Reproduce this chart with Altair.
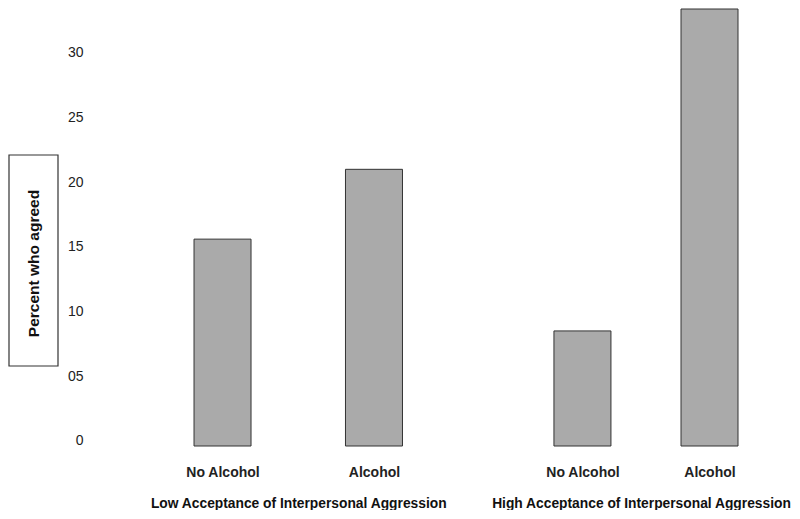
import altair as alt
import pandas as pd

# ---- data ----
group_low = "Low Acceptance of Interpersonal Aggression"
group_high = "High Acceptance of Interpersonal Aggression"
conditions = ["No Alcohol", "Alcohol"]
low_percent = [15.6, 21.0]
high_percent = [8.5, 33.4]
y_ticks = [0, 5, 10, 15, 20, 25, 30]
y_title = "Percent who agreed"
bar_base = -0.4          # bars in the reference start slightly below the 0 label
y_domain = [-0.4, 33.4]

low_df = pd.DataFrame({"condition": conditions, "percent": low_percent,
                       "base": [bar_base] * len(conditions)})
high_df = pd.DataFrame({"condition": conditions, "percent": high_percent,
                        "base": [bar_base] * len(conditions)})

FONT = "Liberation Sans"
PLOT_H = 437

y_scale = alt.Scale(domain=y_domain, nice=False, zero=False)


def x_axis(title):
    return alt.Axis(title=title, labelAngle=0, domain=False, ticks=False, grid=False,
                    labelFontWeight="bold", labelFontSize=14, labelPadding=19,
                    titleFontWeight="bold", titleFontSize=13.8, titlePadding=17)


def bar_layer(df, title, xscale, yaxis):
    return alt.Chart(df).mark_bar(size=57, fill="#aaaaaa", stroke="#333333",
                                  strokeWidth=1).encode(
        x=alt.X("condition:N", sort=conditions, scale=xscale, axis=x_axis(title)),
        y=alt.Y("percent:Q", scale=y_scale, axis=yaxis),
        y2="base:Q",
    )


left_yaxis = alt.Axis(values=y_ticks, domain=False, ticks=False, grid=False,
                      labelExpr="datum.value == 0 ? '0' : (datum.value < 10 ? '0' + datum.value : '' + datum.value)",
                      labelFontSize=14, labelPadding=12,
                      title=y_title, titleX=-62, titleY=254, titleAngle=270,
                      titleAlign="center", titleBaseline="middle",
                      titleFontSize=15.5, titleFontWeight="bold")

left_bars = bar_layer(low_df, group_low,
                      alt.Scale(type="point", padding=0.842), left_yaxis)

title_box = alt.Chart(alt.Data(values=[{}])).mark_rect(
    fillOpacity=0, stroke="#333333", strokeWidth=1.2).encode(
    x=alt.value(-86), x2=alt.value(-37), y=alt.value(146), y2=alt.value(357))

left = alt.layer(left_bars, title_box).properties(width=406.5, height=PLOT_H)

right = bar_layer(high_df, group_high,
                  alt.Scale(type="point", padding=0.594, align=0.533),
                  None).properties(width=278, height=PLOT_H)

chart = alt.hconcat(left, right, spacing=0, bounds="flush").properties(
    padding=0
).configure_view(strokeWidth=0).configure_axis(
    labelFont=FONT, titleFont=FONT, labelColor="#222222", titleColor="#111111"
)

chart.save("out.html", embed_options={"renderer": "svg", "actions": False})
